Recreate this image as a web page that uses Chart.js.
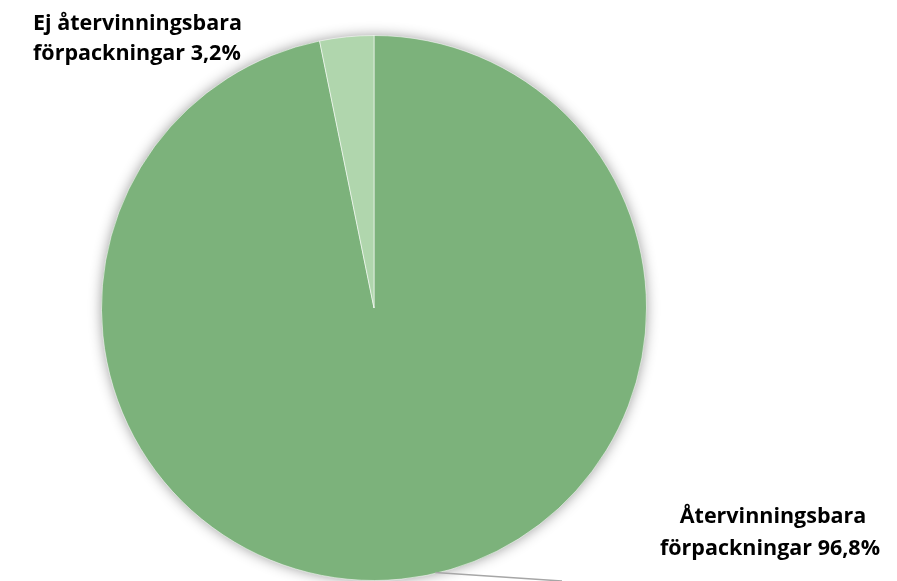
<!DOCTYPE html>
<html lang="sv">
<head>
<meta charset="utf-8">
<script src="https://cdn.jsdelivr.net/npm/chart.js@4/dist/chart.umd.min.js"></script>
<style>
  html, body { margin: 0; padding: 0; background: #fff; }
  #wrap { width: 897px; height: 581px; position: relative; }
</style>
</head>
<body>
<div id="wrap"><canvas id="chart_packaging"></canvas></div>
<script>
// Andel förpackningar, procent
var categories = ['Återvinningsbara förpackningar', 'Ej återvinningsbara förpackningar'];
var shares = [96.8, 3.2];
var sliceColors = ['#7cb27b', '#b0d6ad'];
var labelLines = [
    ['Återvinningsbara', 'förpackningar 96,8%'],
    ['Ej återvinningsbara', 'förpackningar 3,2%']
];

var labelFont = 'bold 21.5px "Open Sans", Lato, sans-serif';

var pieShadow = {
    id: 'pieShadow',
    beforeDatasetsDraw: function (chart) {
        var arc = chart.getDatasetMeta(0).data[0];
        if (!arc) return;
        var ctx = chart.ctx;
        ctx.save();
        ctx.shadowColor = 'rgba(0,0,0,0.45)';
        ctx.shadowBlur = 14;
        ctx.fillStyle = '#fff';
        ctx.beginPath();
        ctx.arc(arc.x, arc.y, arc.outerRadius - 1, 0, Math.PI * 2);
        ctx.fill();
        ctx.restore();
    }
};

var outsideLabels = {
    id: 'outsideLabels',
    afterDraw: function (chart) {
        var ctx = chart.ctx;
        var arc = chart.getDatasetMeta(0).data[0];
        ctx.save();

        // leader line from the big slice to its label
        var a = 77 * Math.PI / 180;
        ctx.strokeStyle = '#a6a6a6';
        ctx.lineWidth = 1.5;
        ctx.beginPath();
        ctx.moveTo(arc.x + arc.outerRadius * Math.cos(a), arc.y + arc.outerRadius * Math.sin(a) - 1);
        ctx.lineTo(562, 581);
        ctx.stroke();

        ctx.font = labelFont;
        ctx.fillStyle = '#000';
        ctx.textBaseline = 'alphabetic';

        ctx.textAlign = 'center';
        ctx.fillText(labelLines[0][0], 773, 523);
        ctx.fillText(labelLines[0][1], 770, 555);

        ctx.textAlign = 'left';
        ctx.fillText(labelLines[1][0], 33, 30);
        ctx.fillText(labelLines[1][1], 33, 60);
        ctx.restore();
    }
};

var chart_packaging = new Chart(document.getElementById('chart_packaging'), {
    type: 'pie',
    data: {
        labels: categories,
        datasets: [{
            data: shares,
            backgroundColor: sliceColors,
            borderColor: 'rgba(255,255,255,0.55)',
            borderWidth: 1
        }]
    },
    options: {
        animation: false,
        responsive: true,
        maintainAspectRatio: false,
        layout: {
            padding: { left: 101, right: 250, top: 35, bottom: 0 }
        },
        plugins: {
            legend: { display: false },
            tooltip: { enabled: false }
        }
    },
    plugins: [pieShadow, outsideLabels]
});
</script>
</body>
</html>
